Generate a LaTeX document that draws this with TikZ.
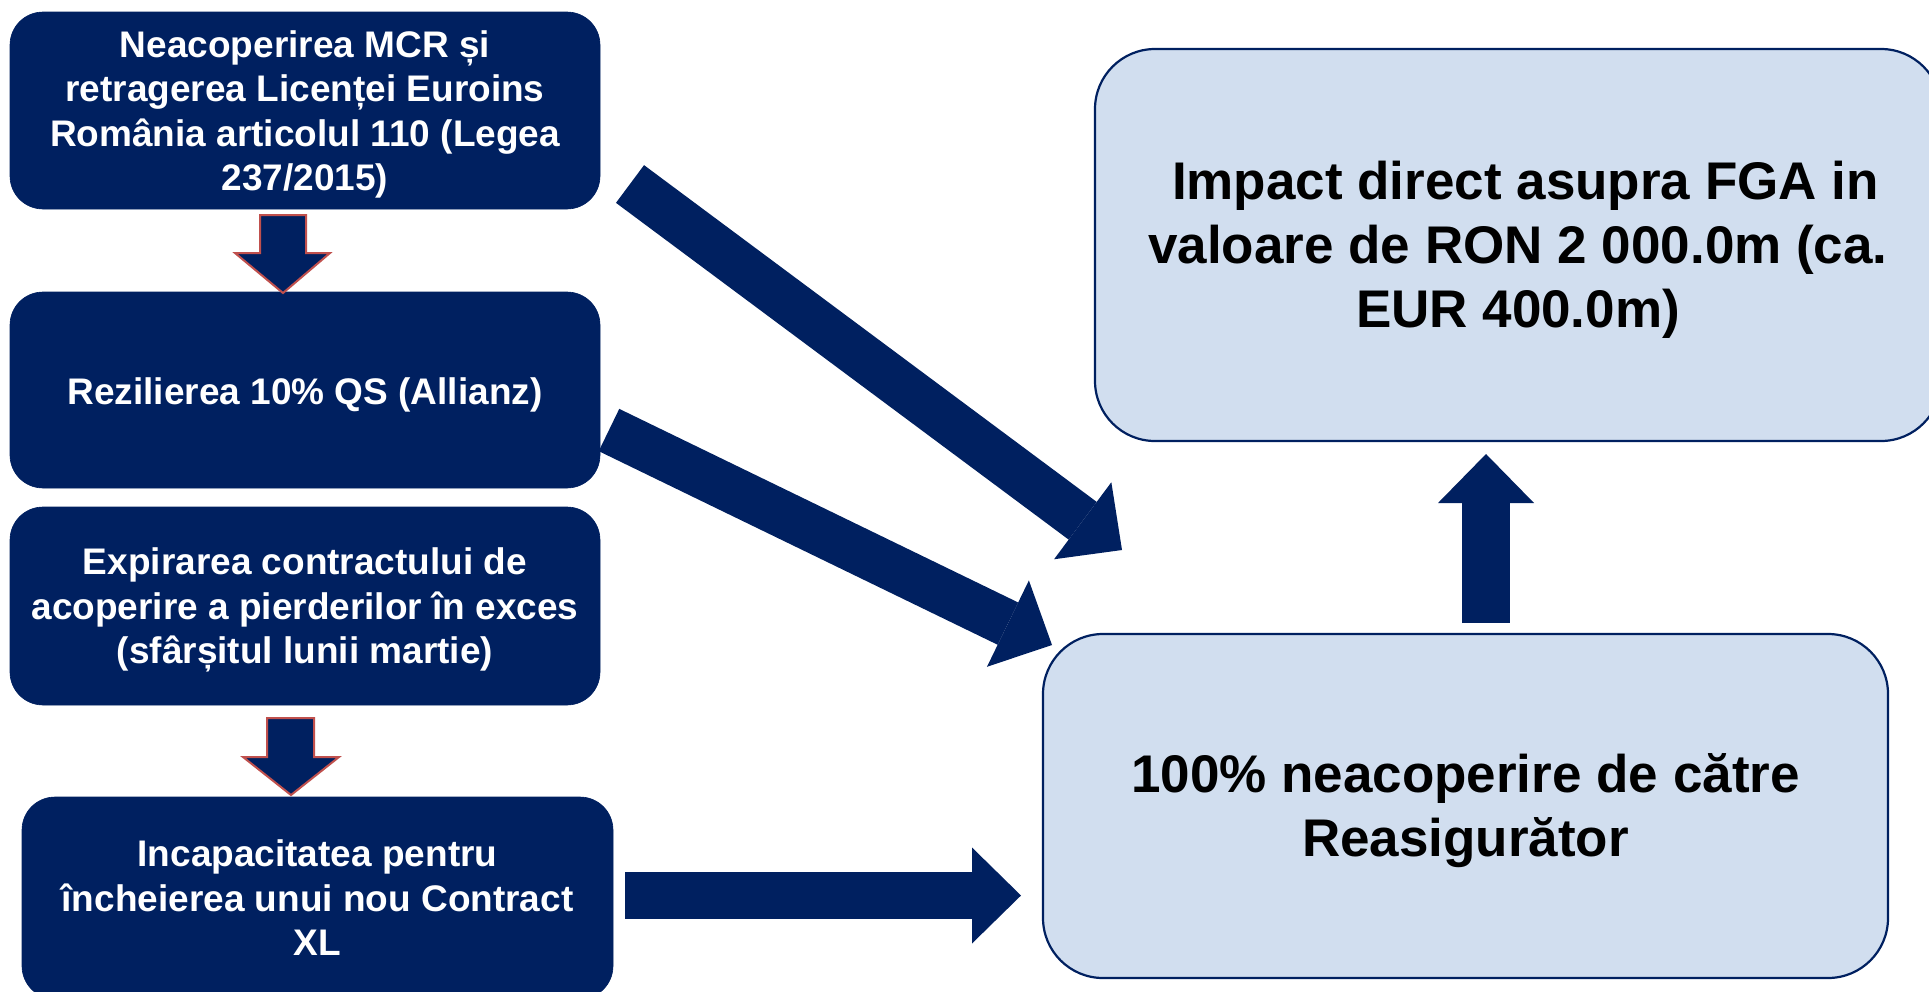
\documentclass[tikz,border=0pt]{standalone}
\usepackage{fontspec}
\setmainfont{Liberation Sans}
\usetikzlibrary{arrows.meta}
\definecolor{navy}{RGB}{0,32,96}
\definecolor{paleblue}{RGB}{209,222,239}
\definecolor{redline}{RGB}{192,80,77}
\begin{document}
\begin{tikzpicture}[x=1pt,y=1pt,
  leftbox/.style={fill=navy, draw=navy, line width=0.6pt, rounded corners=33pt, inner sep=0pt, outer sep=0pt},
  lefttext/.style={text=white, align=center, inner sep=0pt, font=\fontsize{37}{44.5}\selectfont\bfseries},
  rightbox/.style={fill=paleblue, draw=navy, line width=2.2pt, rounded corners=60pt, inner sep=0pt, outer sep=0pt},
  righttext/.style={text=black, align=center, inner sep=0pt, font=\fontsize{53}{64}\selectfont\bfseries},
  bigarrow/.style={draw=navy, line width=47pt, -{Triangle[length=49pt,width=96pt,line width=0pt]}},
  smallarrow/.style={fill=navy, draw=redline, line width=2pt, line join=miter}
]
\useasboundingbox (0,0) rectangle (1929,-991);
\fill[white] (0,0) rectangle (1929,-991);

% left boxes
\node[leftbox, minimum width=590pt, minimum height=197pt] (b1) at (305,-110.5) {};
\node[lefttext] (t1) at ([yshift=-4pt]b1.center)
  {Neacoperirea MCR și\\retragerea Licenței Euroins\\România articolul 110 (Legea\\237/2015)};
\node[leftbox, minimum width=590pt, minimum height=196pt] (b2) at (305,-390) {};
\node[lefttext] (t2) at ([yshift=-5pt]b2.center) {Rezilierea 10\% QS (Allianz)};
\node[leftbox, minimum width=590pt, minimum height=198pt] (b3) at (305,-606) {};
\node[lefttext] (t3) at ([yshift=-4pt]b3.center)
  {Expirarea contractului de\\acoperire a pierderilor în exces\\(sfârșitul lunii martie)};
\node[leftbox, minimum width=591pt, minimum height=202pt] (b4) at (317.5,-898) {};
\node[lefttext] (t4) at (b4.center)
  {Incapacitatea pentru\\încheierea unui nou Contract\\XL};

% right boxes
\node[rightbox, minimum width=846pt, minimum height=392pt] (r1) at (1518,-245) {};
\node[righttext] (u1) at ([yshift=-5pt]r1.center)
  {\hspace*{0.28em}Impact direct asupra FGA in\\valoare de RON 2 000.0m (ca.\\EUR 400.0m)};
\node[rightbox, minimum width=845pt, minimum height=344pt] (r2) at (1465.5,-806) {};
\node[righttext] (u2) at ([yshift=-5pt]r2.center)
  {100\% neacoperire de către\\Reasigurător};

% small down arrows between left boxes
\coordinate (s1) at (283,-215);
\draw[smallarrow] (s1) ++(-23,0) -- ++(46,0) -- ++(0,-38) -- ++(24,0) -- (283,-293) -- (235,-253) -- (260,-253) -- cycle;
\coordinate (s2) at (290.5,-718);
\draw[smallarrow] (s2) ++(-23.5,0) -- ++(47,0) -- ++(0,-39) -- ++(25,0) -- (291,-795) -- (243,-757) -- (267,-757) -- cycle;

% big arrows
\coordinate (a1s) at (630,-184);
\coordinate (a1e) at (1122,-550);
\coordinate (a2s) at (609,-430);
\coordinate (a2e) at (1052,-645);
\coordinate (a3s) at (625,-895.5);
\coordinate (a3e) at (1021,-895.5);
\coordinate (a4s) at (1486,-623);
\coordinate (a4e) at (1486,-454);
\draw[bigarrow] (a1s) -- (a1e);
\draw[bigarrow] (a2s) -- (a2e);
\draw[bigarrow] (a3s) -- (a3e);
\draw[bigarrow, line width=48pt] (a4s) -- (a4e);
\end{tikzpicture}
\end{document}
